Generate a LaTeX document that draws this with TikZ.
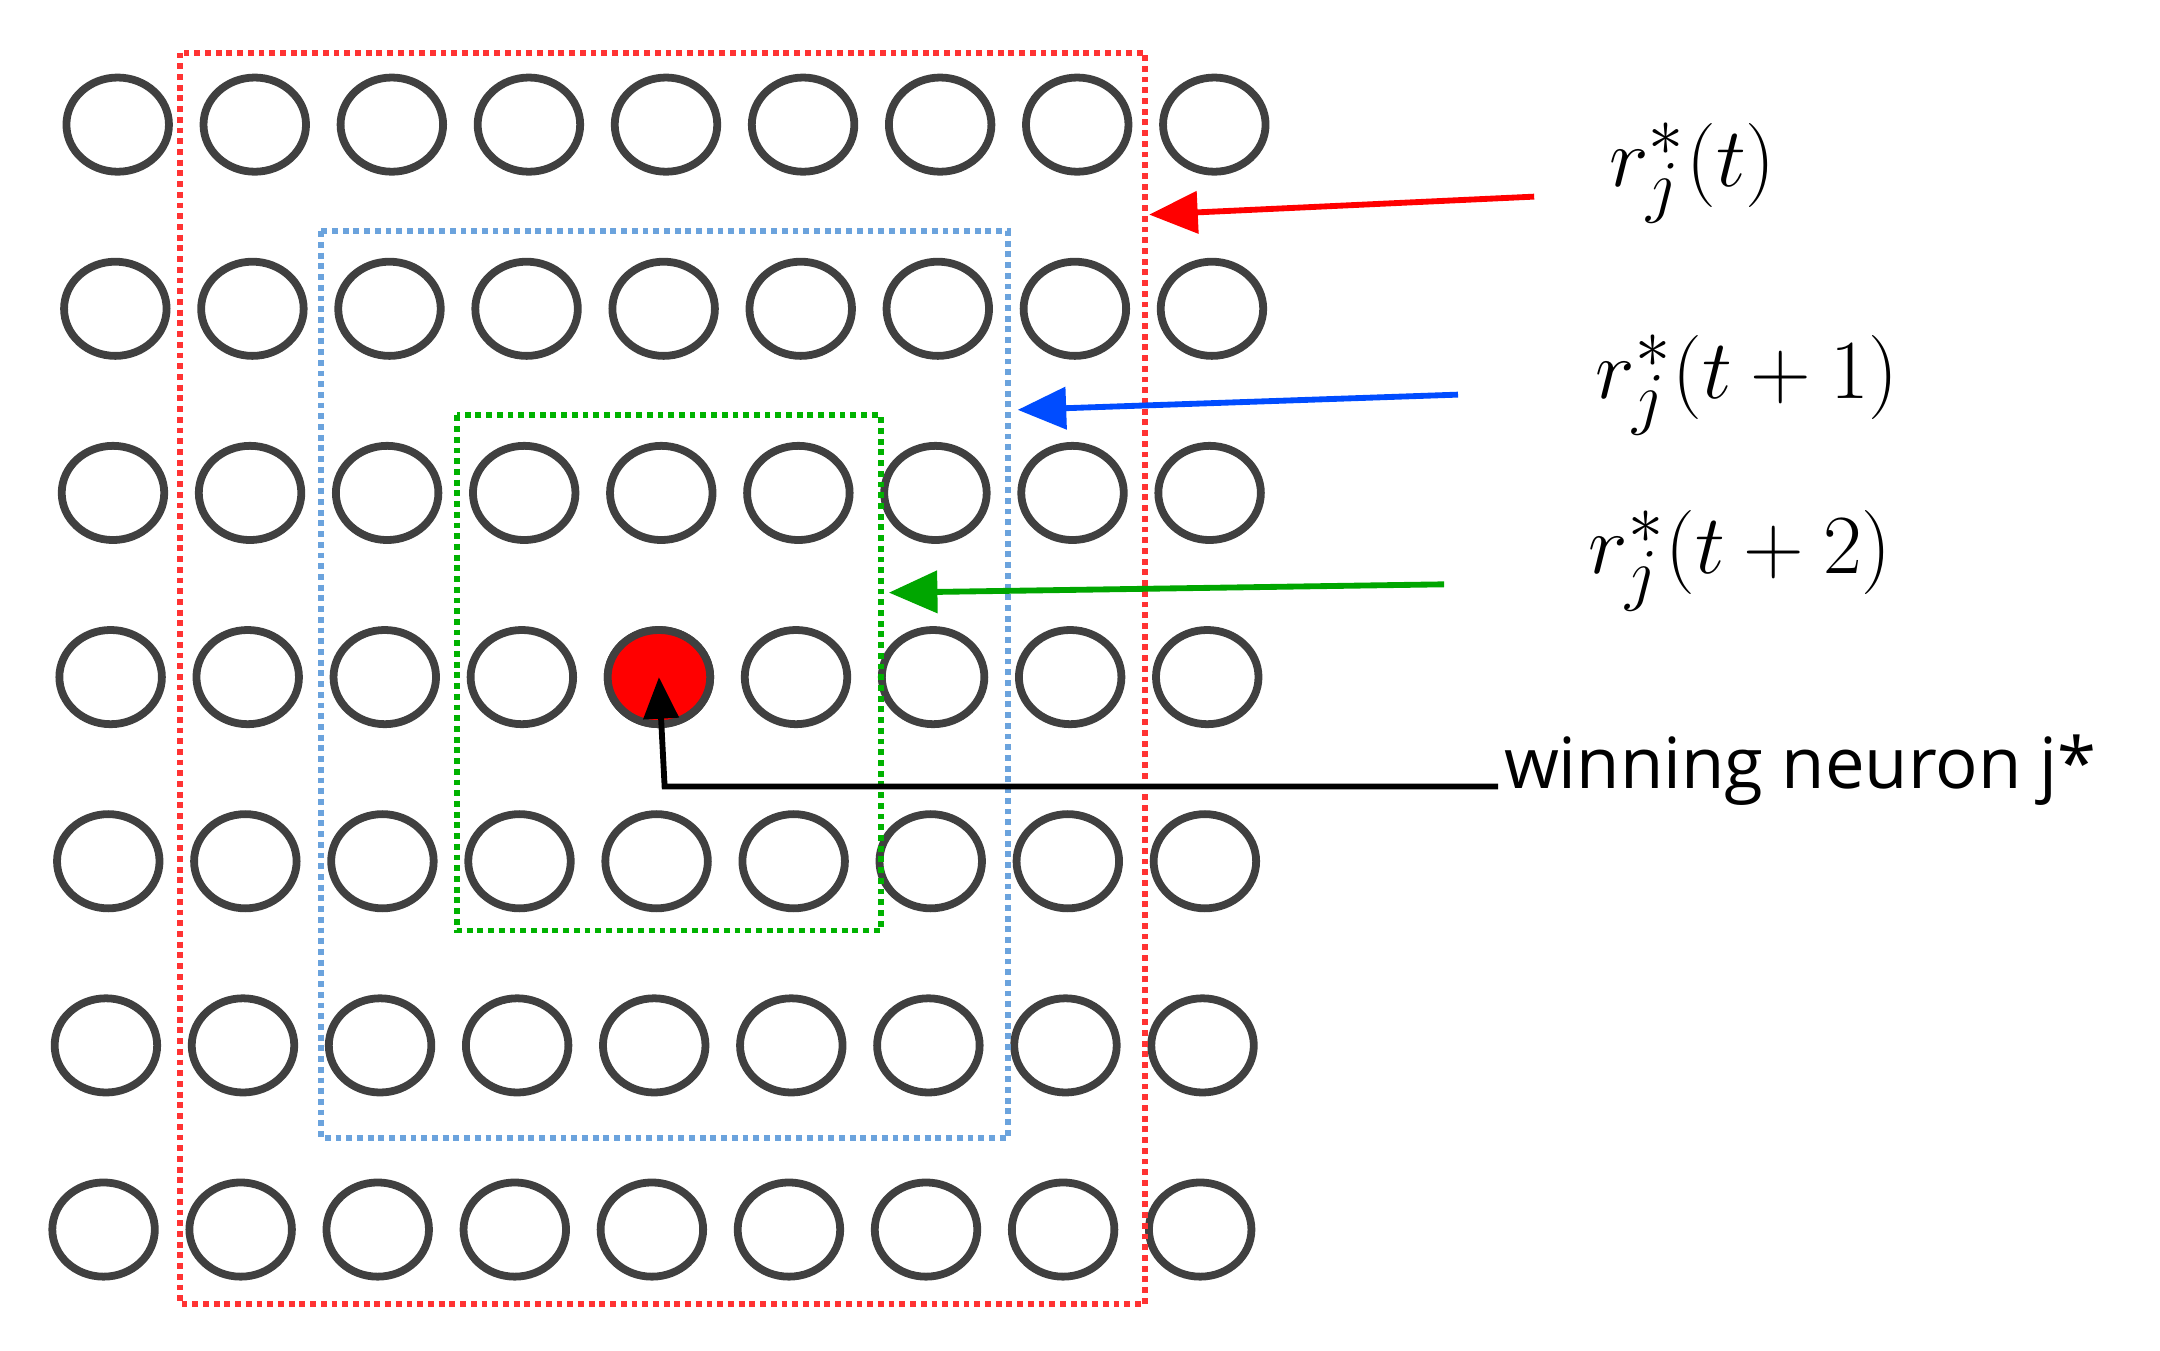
\documentclass[tikz,border=0pt]{standalone}
\usepackage{fontspec}
\newfontfamily\labelfont{Open Sans}
\usetikzlibrary{shapes.geometric,positioning,arrows.meta,calc}

\begin{document}
\begin{tikzpicture}[x=0.01cm,y=-0.01cm,
    neuron/.style={ellipse, draw=black!75, line width=1.6pt, minimum width=0.74cm, minimum height=0.68cm},
    winner/.style={neuron, fill=red},
    frame/.style={densely dotted, line width=1.2pt},
    pointer/.style={line width=1.2pt, -{Triangle[length=0.35cm,width=0.3cm]}},
    radius/.style={font=\fontsize{19}{23}\selectfont}]
  \useasboundingbox (0,0) rectangle (1560,975);

  % grid of neurons
  \foreach \r in {1,...,7} {
    \foreach \c in {1,...,9} {
      \node[neuron] (n-\r-\c) at ({85-1.7*(\r-1)+99*(\c-1)},{90+133*(\r-1)}) {};
    };
  };
  \node[winner] at (n-4-5) {};

  % neighbourhoods
  \draw[frame, red!80] (130,38) rectangle (827,942);
  \draw[frame, cyan!60!blue!60] (232,167) rectangle (728,822);
  \draw[frame, green!70!black] (330,300) rectangle (636,672);

  % labels
  \node[radius, anchor=west] (lt) at (1150,125) {$r_j^*(t)$};
  \node[radius, anchor=west] (lt1) at (1140,278) {$r_j^*(t+1)$};
  \node[radius, anchor=west] (lt2) at (1135,405) {$r_j^*(t+2)$};
  \node[font=\labelfont\fontsize{14.5}{17}\selectfont, anchor=west, inner sep=1pt] (win) at (1082,556) {winning neuron j*};

  \coordinate (rt) at (830,155);
  \coordinate (bt) at (735,296);
  \coordinate (gt) at (642,428);
  \draw[pointer, red] (1108,142) -- (rt);
  \draw[pointer, blue!70!cyan] (1053,285) -- (bt);
  \draw[pointer, green!65!black] (1043,422) -- (gt);
  \draw[pointer, black, -{Triangle[length=0.3cm,width=0.25cm]}] (win.west |- 0,568) -- (480,568) -- (n-4-5.center);
\end{tikzpicture}
\end{document}
